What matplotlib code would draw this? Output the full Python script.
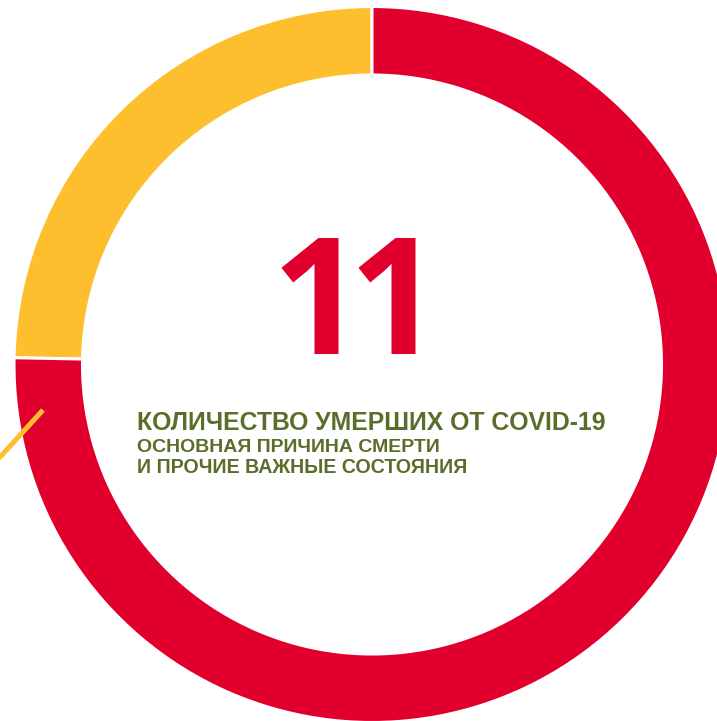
import numpy as np
import matplotlib.pyplot as plt

# donut shares (yellow first, drawn counterclockwise from 12 o'clock)
shares = [24.7, 75.3]
colors = ["#FDBF2D", "#E1002D"]
big_number = "11"
title_lines = ["КОЛИЧЕСТВО УМЕРШИХ ОТ COVID-19",
               "ОСНОВНАЯ ПРИЧИНА СМЕРТИ",
               "И ПРОЧИЕ ВАЖНЫЕ СОСТОЯНИЯ"]

W, H = 717, 721
fig = plt.figure(figsize=(W / 100, H / 100), dpi=100)
ax = fig.add_axes([0, 0, 1, 1])

cx, cy = 372, H - 364.5
R, ring = 358, 68.5

ax.pie(shares, colors=colors, startangle=90, counterclock=True,
       center=(cx, cy), radius=R,
       wedgeprops=dict(width=ring, edgecolor="white", linewidth=2.2))

# leader line from the yellow slice label
ax.plot([43, -20], [H - 410, H - 479], color="#FDBF2D", lw=3.6,
        solid_capstyle="butt", clip_on=True)

# big number, tightly tracked
for i, ch in enumerate(big_number):
    ax.text(272 + i * 77, H - 354, ch, ha="left", va="baseline",
            fontsize=116, fontweight="bold", color="#E1002D",
            family="Open Sans")

green = "#5A6E2B"
ax.text(137, H - 430, title_lines[0], ha="left", va="baseline",
        fontsize=17.8, fontweight="bold", color=green,
        family="Liberation Sans")
ax.text(137, H - 452, title_lines[1], ha="left", va="baseline",
        fontsize=14, fontweight="bold", color=green,
        family="Liberation Sans")
ax.text(137, H - 473, title_lines[2], ha="left", va="baseline",
        fontsize=14.1, fontweight="bold", color=green,
        family="Liberation Sans")

ax.set_xlim(0, W)
ax.set_ylim(0, H)
ax.set_aspect("equal")
ax.axis("off")

fig.savefig("out.png", dpi=100)
